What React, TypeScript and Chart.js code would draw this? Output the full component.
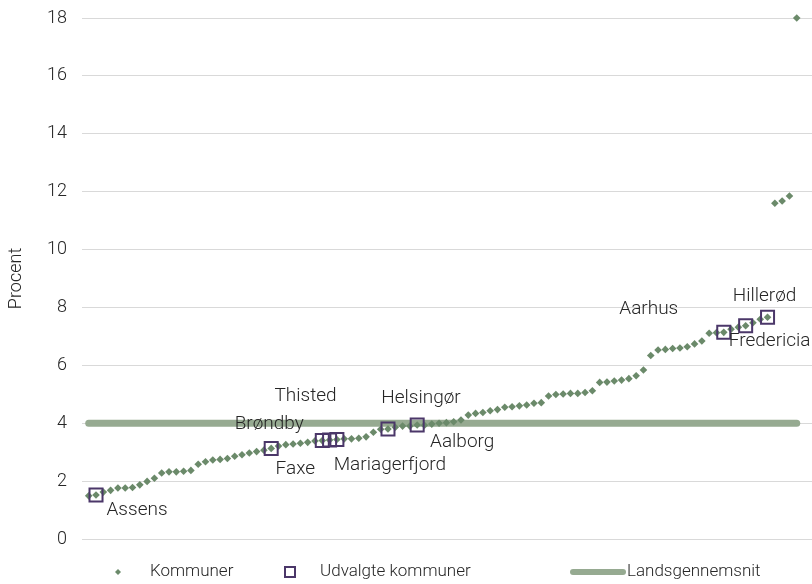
import React, { useEffect, useRef } from "react";
import { Chart, registerables } from "chart.js";

Chart.register(...registerables);

// Andel i procent for hver kommune, sorteret stigende
const KOMMUNE_VALUES: number[] = [
  1.49, 1.52, 1.62, 1.68, 1.76, 1.76, 1.78, 1.87, 1.99, 2.10,
  2.28, 2.32, 2.32, 2.34, 2.37, 2.58, 2.67, 2.73, 2.75, 2.78,
  2.86, 2.91, 2.97, 3.02, 3.07, 3.13, 3.21, 3.26, 3.28, 3.31,
  3.34, 3.39, 3.40, 3.42, 3.44, 3.46, 3.46, 3.48, 3.53, 3.69,
  3.79, 3.80, 3.86, 3.90, 3.90, 3.94, 3.93, 3.97, 4.00, 4.02,
  4.05, 4.11, 4.28, 4.34, 4.37, 4.43, 4.47, 4.55, 4.57, 4.60,
  4.63, 4.69, 4.71, 4.94, 4.99, 5.01, 5.03, 5.03, 5.06, 5.12,
  5.41, 5.42, 5.46, 5.49, 5.54, 5.64, 5.84, 6.34, 6.53, 6.55,
  6.58, 6.60, 6.64, 6.74, 6.84, 7.11, 7.13, 7.14, 7.25, 7.32,
  7.37, 7.47, 7.59, 7.66, 11.60, 11.68, 11.85, 18.0,
];

// Udvalgte kommuner: navn og placering (indeks) i den sorterede række
const SELECTED_NAMES: string[] = [
  "Assens", "Brøndby", "Faxe", "Thisted", "Mariagerfjord",
  "Helsingør", "Aalborg", "Aarhus", "Fredericia", "Hillerød",
];
const SELECTED_INDEX: number[] = [1, 25, 32, 33, 34, 41, 45, 87, 90, 93];

const LANDSGENNEMSNIT = 4.0;

const Y_TICKS: number[] = [0, 2, 4, 6, 8, 10, 12, 14, 16, 18];

const LEGEND_LABELS: string[] = ["Kommuner", "Udvalgte kommuner", "Landsgennemsnit"];
const Y_TITLE = "Procent";

// styling
const C_POINT = "#6b8a6a";
const C_BOX = "#4b3769";
const C_LINE = "#96aa91";
const C_GRID = "#d9d9d9";
const C_TEXT = "#262626";
const FONT_FAMILY = "Roboto, 'Noto Sans', sans-serif";

// label offsets (px) relative to each selected point
const LABEL_OFFSETS: [number, number][] = [
  [41, 15], [-2, -24], [-27, 29], [-24, -44], [53, 26],
  [33, -31], [45, 17], [-75, -23], [24, 16], [-3, -21],
];

export default function App() {
  const canvasRef = useRef<HTMLCanvasElement | null>(null);

  useEffect(() => {
    const canvas = canvasRef.current;
    if (!canvas) return;

    const labelPlugin = {
      id: "selLabels",
      afterDatasetsDraw(chart: any) {
        const meta = chart.getDatasetMeta(0);
        const ctx = chart.ctx;
        ctx.save();
        ctx.font = `300 19px ${FONT_FAMILY}`;
        ctx.fillStyle = C_TEXT;
        ctx.textAlign = "center";
        ctx.textBaseline = "middle";
        meta.data.forEach((pt: any, i: number) => {
          const [dx, dy] = LABEL_OFFSETS[i];
          ctx.fillText(SELECTED_NAMES[i], pt.x + dx, pt.y + dy);
        });
        ctx.restore();
      },
    };

    const legendPlugin = {
      id: "customLegend",
      afterDraw(chart: any) {
        const ctx = chart.ctx;
        const y = 572;
        ctx.save();
        // diamond
        ctx.fillStyle = C_POINT;
        ctx.beginPath();
        ctx.moveTo(118, y - 3);
        ctx.lineTo(121, y);
        ctx.lineTo(118, y + 3);
        ctx.lineTo(115, y);
        ctx.closePath();
        ctx.fill();
        // square
        ctx.strokeStyle = C_BOX;
        ctx.lineWidth = 2;
        ctx.strokeRect(285, y - 5, 10, 10);
        // line
        ctx.strokeStyle = C_LINE;
        ctx.lineWidth = 6;
        ctx.lineCap = "round";
        ctx.beginPath();
        ctx.moveTo(573, y);
        ctx.lineTo(623, y);
        ctx.stroke();
        // texts
        ctx.font = `300 17px ${FONT_FAMILY}`;
        ctx.fillStyle = C_TEXT;
        ctx.textAlign = "left";
        ctx.textBaseline = "middle";
        ctx.fillText(LEGEND_LABELS[0], 150, y);
        ctx.fillText(LEGEND_LABELS[1], 320, y);
        ctx.fillText(LEGEND_LABELS[2], 627, y);
        ctx.restore();
      },
    };

    const kommunePoints = KOMMUNE_VALUES.map((v, i) => ({ x: i, y: v }));
    const selectedPoints = SELECTED_INDEX.map((i) => ({ x: i, y: KOMMUNE_VALUES[i] }));
    const avgLine = [
      { x: 0, y: LANDSGENNEMSNIT },
      { x: KOMMUNE_VALUES.length - 1, y: LANDSGENNEMSNIT },
    ];

    const chart = new Chart(canvas, {
      type: "scatter",
      data: {
        datasets: [
          {
            label: LEGEND_LABELS[1],
            data: selectedPoints,
            pointStyle: "rect",
            pointRadius: 9.2,
            pointBorderWidth: 2,
            pointBorderColor: C_BOX,
            pointBackgroundColor: "rgba(0,0,0,0)",
            showLine: false,
            clip: false,
            order: 0,
          } as any,
          {
            label: LEGEND_LABELS[0],
            data: kommunePoints,
            pointStyle: "rectRot",
            pointRadius: 3.8,
            pointBorderWidth: 0,
            pointBackgroundColor: C_POINT,
            pointBorderColor: C_POINT,
            showLine: false,
            clip: false,
            order: 1,
          } as any,
          {
            label: LEGEND_LABELS[2],
            data: avgLine,
            showLine: true,
            borderColor: C_LINE,
            borderWidth: 7,
            borderCapStyle: "round",
            pointRadius: 0,
            clip: false,
            order: 2,
          } as any,
        ],
      },
      options: {
        animation: false,
        responsive: true,
        maintainAspectRatio: false,
        layout: { autoPadding: false, padding: { top: 18, bottom: 45, left: 0, right: 0 } },
        plugins: {
          legend: { display: false },
          tooltip: { enabled: false },
        },
        scales: {
          x: {
            type: "linear",
            display: false,
            min: -0.92,
            max: 99.09,
          },
          y: {
            min: 0,
            max: 18,
            afterBuildTicks: (scale: any) => {
              scale.ticks = Y_TICKS.map((v) => ({ value: v }));
            },
            afterFit: (scale: any) => {
              scale.width = 82;
            },
            border: { display: false },
            grid: {
              color: C_GRID,
              lineWidth: 1,
              drawTicks: true,
              tickLength: 12,
              tickColor: "rgba(0,0,0,0)",
            },
            ticks: {
              padding: 3,
              color: C_TEXT,
              font: { family: FONT_FAMILY, size: 18, weight: "300" as any },
            },
            title: {
              display: true,
              text: Y_TITLE,
              color: C_TEXT,
              padding: { top: 6, bottom: 0 },
              font: { family: FONT_FAMILY, size: 18, weight: "300" as any },
            },
          },
        },
      },
      plugins: [labelPlugin, legendPlugin],
    });

    return () => chart.destroy();
  }, []);

  return (
    <div style={{ position: "fixed", left: 0, top: 0, width: 812, height: 584 }}>
      <canvas ref={canvasRef} />
    </div>
  );
}
